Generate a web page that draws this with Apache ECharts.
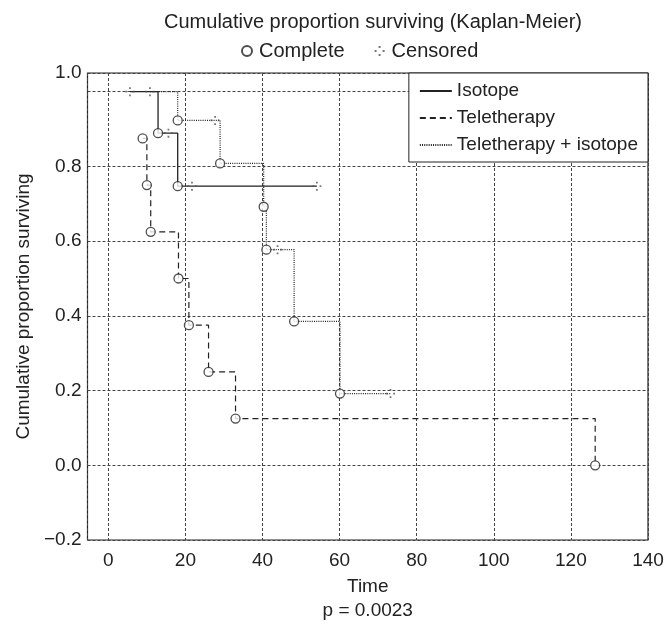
<!DOCTYPE html>
<html>
<head>
<meta charset="utf-8">
<script src="https://cdn.jsdelivr.net/npm/echarts@6/dist/echarts.min.js"></script>
<style>
  html, body { margin: 0; padding: 0; background: #fff; }
  #chart { width: 664px; height: 626px; }
</style>
</head>
<body>
<div id="chart"></div>
<script>
// ---- Data ----
// Isotope group: time, survival, event (1 = complete, 0 = censored)
const isoTimes = [5.6, 12.9, 15.6, 18.0, 21.7, 54.1];
const isoSurv  = [1.0, 0.889, 0.889, 0.747, 0.747, 0.747];
const isoEvent = [0, 1, 0, 1, 0, 0];

// Teletherapy group
const teleTimes = [8.9, 10.0, 11.0, 18.2, 20.9, 26.0, 33.0, 126.3];
const teleSurv  = [0.875, 0.75, 0.625, 0.5, 0.375, 0.25, 0.125, 0.0];
const teleEvent = [1, 1, 1, 1, 1, 1, 1, 1];

// Teletherapy + isotope group
const tiTimes = [10.8, 18.0, 27.7, 29.0, 40.3, 41.0, 43.9, 48.2, 60.1, 73.2];
const tiSurv  = [1.0, 0.923, 0.923, 0.808, 0.692, 0.577, 0.577, 0.385, 0.192, 0.192];
const tiEvent = [0, 1, 0, 1, 1, 1, 0, 1, 1, 0];

const seriesNames = ['Isotope', 'Teletherapy', 'Teletherapy + isotope'];
const markerNames = ['Complete', 'Censored'];
const chartTitle = 'Cumulative proportion surviving (Kaplan-Meier)';
const xName = 'Time';
const pText = 'p = 0.0023';
const yName = 'Cumulative proportion surviving';

// ---- Build ----
const groups = [
  { t: isoTimes, s: isoSurv, e: isoEvent },
  { t: teleTimes, s: teleSurv, e: teleEvent },
  { t: tiTimes, s: tiSurv, e: tiEvent }
];
const pairs = g => g.t.map((t, i) => [t, g.s[i]]);
const complete = [], censored = [];
groups.forEach(g => g.t.forEach((t, i) => {
  (g.e[i] ? complete : censored).push([t, g.s[i]]);
}));

const FONT = "'Liberation Sans', Arial, sans-serif";
const FS = 19;
const TXT = '#222';
const lineTypes = ['solid', [6, 4], [1, 1.2]];
const lineWidths = [1.3, 1.2, 1.2];

const chart = echarts.init(document.getElementById('chart'), null, { renderer: 'canvas' });

const censorPath = 'path://M4,0h2v2h-2z M0,4h2v2h-2z M8,4h2v2h-2z M4,8h2v2h-2z';

const option = {
  animation: false,
  backgroundColor: '#fff',
  title: {
    text: chartTitle,
    left: 368,
    textAlign: 'center',
    top: 7,
    textStyle: { fontFamily: FONT, fontSize: 20, fontWeight: 'normal', color: TXT }
  },
  legend: [
    {
      data: markerNames,
      top: 36,
      left: 236,
      itemGap: 30,
      itemWidth: 14,
      itemHeight: 10,
      textStyle: { fontFamily: FONT, fontSize: 20, color: TXT },
      selectedMode: false
    },
    {
      data: seriesNames,
      orient: 'vertical',
      right: 16,
      top: 73,
      backgroundColor: '#fff',
      borderColor: '#222',
      borderWidth: 1,
      borderRadius: 0,
      padding: [7, 10, 6, 10],
      itemWidth: 32,
      itemHeight: 14,
      itemGap: 5,
      itemStyle: { opacity: 0, color: 'transparent', borderColor: 'transparent', borderWidth: 0 },
      textStyle: { fontFamily: FONT, fontSize: FS, lineHeight: 22, color: TXT },
      selectedMode: false,
      z: 10
    }
  ],
  grid: {
    left: 87.5, right: 16, top: 73, bottom: 86,
    outerBoundsMode: 'none',
    containLabel: false,
    show: true, borderColor: '#222', borderWidth: 1.2, backgroundColor: 'transparent'
  },
  xAxis: {
    type: 'value',
    min: -5.4,
    max: 140,
    splitNumber: 7,
    name: xName + '\n' + pText,
    nameLocation: 'middle',
    nameGap: 35,
    nameTextStyle: { fontFamily: FONT, fontSize: FS, lineHeight: 24, color: TXT },
    axisLine: { show: false },
    axisTick: { show: false },
    axisLabel: {
      margin: 11,
      showMinLabel: true,
      showMaxLabel: true,
      fontFamily: FONT, fontSize: FS, color: TXT,
      formatter: v => (v < -1 ? '' : String(Math.round(v)))
    },
    splitLine: { show: true, lineStyle: { type: [3, 2], color: '#444', width: 1 } }
  },
  yAxis: {
    type: 'value',
    min: -0.2,
    max: 1.05,
    splitNumber: 6,
    name: yName,
    nameLocation: 'middle',
    nameGap: 54,
    nameTextStyle: { fontFamily: FONT, fontSize: FS, color: TXT },
    axisLine: { show: false },
    axisTick: { show: false },
    axisLabel: {
      margin: 6,
      showMinLabel: true,
      showMaxLabel: true,
      fontFamily: FONT, fontSize: FS, color: TXT,
      formatter: v => {
        if (Math.abs(v - 1.05) < 1e-6) return '1.0';
        if (Math.abs(v - 1.0) < 1e-6) return '';
        const s = Math.abs(v).toFixed(1);
        return v < -1e-9 ? '\u2212' + s : s;
      }
    },
    splitLine: { show: true, lineStyle: { type: [3, 2], color: '#444', width: 1 } }
  },
  series: [
    ...groups.map((g, i) => ({
      name: seriesNames[i],
      type: 'line',
      step: 'end',
      data: pairs(g),
      symbol: 'none',
      color: '#222',
      lineStyle: { color: '#222', width: lineWidths[i], type: lineTypes[i] },
      silent: true,
      z: 3
    })),
    {
      name: markerNames[0],
      type: 'scatter',
      data: complete,
      symbol: 'circle',
      symbolSize: 9,
      color: '#fff',
      itemStyle: { color: '#fff', borderColor: '#222', borderWidth: 1.3 },
      silent: true,
      z: 5
    },
    {
      name: markerNames[1],
      type: 'scatter',
      data: censored,
      symbol: censorPath,
      symbolSize: 9,
      color: '#555',
      itemStyle: { color: '#555' },
      silent: true,
      z: 5
    }
  ]
};
chart.setOption(option);
</script>
</body>
</html>
